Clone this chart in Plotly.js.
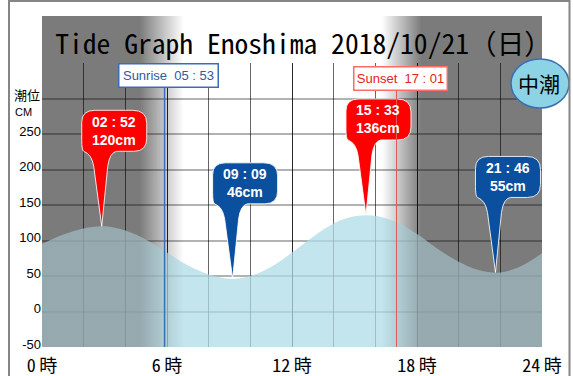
<!DOCTYPE html>
<html><head><meta charset="utf-8">
<script src="https://cdn.plot.ly/plotly-3.0.1.min.js"></script>
<style>html,body{margin:0;padding:0;background:#fff}#chart{width:573px;height:376px}</style>
</head><body><div id="chart"></div>
<script>
// ---------------- data ----------------
const chartTitle = "Tide Graph Enoshima 2018/10/21（日）";
const tideName = "中潮";
const hours = [0,1,2,3,4,5,6,7,8,9,10,11,12,13,14,15,16,17,18,19,20,21,22,23,24];
const tideLevels = [95,108,117,120,114,101,83,65,52,46,50,63,83,105,124,134,135,126,109,88,70,58,55,64,82];
const extremeTimes = ["02:52","09:09","15:33","21:46"];
const extremeLevels = [120,46,136,55];
const extremeKinds = ["high","low","high","low"];
const sunLabels = ["Sunrise","Sunset"];
const sunTimes = ["05:53","17:01"];
const xTickHours = [0,6,12,18,24];
const xTickLabels = ["0\u2009時","6\u2009時","12\u2009時","18\u2009時","24\u2009時"];
const yTickValues = [-50,0,50,100,150,200,250];
const yTickLabels = ["-50","0","50","100","150","200","250"];
const yExtraGrid = [300];
const yAxisLabelTop = "潮位";
const yAxisLabelUnit = "CM";

// ---------------- layout geometry / styles ----------------
const W = 573, H = 376, ML = 42, MR = 31, MT = 63, MB = 29;
const PW = W - ML - MR, PH = H - MT - MB;
const px = p => (p - ML) / PW;          // pixel x -> paper
const py = p => (H - MB - p) / PH;      // pixel y -> paper
const Y_MIN = -50, Y_MAX = 350;

const toHour = s => { const [h, m] = s.split(":").map(Number); return h + m / 60; };
const spaced = s => s.replace(":", " : ");
const sunrise = toHour(sunTimes[0]), sunset = toHour(sunTimes[1]);

const NIGHT = "#7b7b7b", DAY = "#ffffff";
const gradStops = (night, day) => [
  [0, night], [sunrise - 1.2, night], [sunrise + 0.9, day],
  [sunset - 0.7, day], [sunset + 1.2, night], [24, night]
];

// background gradient image (below the grid)
const cv = document.createElement("canvas");
cv.width = 480; cv.height = 2;
const ctx = cv.getContext("2d");
const lg = ctx.createLinearGradient(0, 0, cv.width, 0);
gradStops(NIGHT, DAY).forEach(([h, c]) => lg.addColorStop(h / 24, c));
ctx.fillStyle = lg; ctx.fillRect(0, 0, cv.width, cv.height);
const bgUrl = cv.toDataURL();

const waterScale = gradStops("rgba(158,185,192,0.75)", "rgba(175,220,231,0.75)")
  .map(([h, c]) => [h / 24, c]);

// ---------------- traces ----------------
const traces = [
  { x: hours, y: hours.map(() => Y_MIN), mode: "lines", line: { width: 0 },
    hoverinfo: "skip", showlegend: false },
  { x: hours, y: tideLevels, mode: "lines", line: { width: 0, shape: "spline" },
    fill: "tonexty",
    fillgradient: { type: "horizontal", start: 0, stop: 24, colorscale: waterScale },
    hoverinfo: "skip", showlegend: false }
];

// ---------------- balloons ----------------
const balloonPath = "M 0,0 L -8,60 Q -10,72 -18,75 Q -20,76 -20,86 L -20,104 Q -20,116 -7,116 " +
  "L 31,116 Q 45,116 45,103 L 45,88 Q 45,75 32,75 L 15,75 Q 8,74 6,60 Z";
const shapes = [];
const annotations = [];
extremeTimes.forEach((t, i) => {
  const col = extremeKinds[i] === "high" ? "#ff0000" : "#0b4f9f";
  shapes.push({ type: "path", xref: "x", yref: "y", xsizemode: "pixel", ysizemode: "pixel",
    xanchor: toHour(t), yanchor: extremeLevels[i], path: balloonPath,
    fillcolor: col, line: { color: "rgba(255,255,255,0.85)", width: 1 }, layer: "above" });
  annotations.push({ x: toHour(t), y: extremeLevels[i], xref: "x", yref: "y",
    xshift: 12.5, yshift: 95.5, showarrow: false,
    text: "<b>" + spaced(t) + "<br>" + extremeLevels[i] + "cm</b>",
    font: { family: "Liberation Sans, Arial, sans-serif", size: 14, color: "#ffffff" } });
});

// sunrise / sunset lines and boxes
const sunStyle = [
  { line: "#3b6cb8", text: "#2f5a9c", border: "#3b6cb8", w: 96, xs: 4, yc: 75, lw: 1.5 },
  { line: "#e05a5a", text: "#e42020", border: "#ff6a6a", w: 90, xs: 3.5, yc: 78, lw: 1 }
];
sunTimes.forEach((t, i) => {
  const s = sunStyle[i];
  shapes.push({ type: "line", xref: "x", yref: "paper", x0: toHour(t), x1: toHour(t),
    y0: 0, y1: py(s.yc + 12), line: { color: s.line, width: s.lw }, layer: "above" });
  annotations.push({ x: toHour(t), xref: "x", xshift: s.xs, y: py(s.yc), yref: "paper",
    xanchor: "center", yanchor: "middle", showarrow: false, text: sunLabels[i] + "  " + spaced(t),
    width: s.w, height: 20, bgcolor: "#ffffff", bordercolor: s.border, borderwidth: 1.5, borderpad: 1,
    font: { family: "Liberation Sans, Arial, sans-serif", size: 13, color: s.text } });
});

// tide-name badge
shapes.push({ type: "circle", xref: "paper", yref: "paper", x0: px(511), x1: px(569), y0: py(108), y1: py(59),
  fillcolor: "#8cd3e6", line: { color: "#3b6fb2", width: 1.5 }, layer: "above" });
annotations.push({ x: px(539), y: py(83.5), xref: "paper", yref: "paper", xanchor: "center", yanchor: "middle",
  showarrow: false, text: tideName,
  font: { family: "Noto Sans CJK JP, sans-serif", size: 21, color: "#000" } });

// y axis caption (two separate lines)
annotations.push({ x: px(13), y: py(95), xref: "paper", yref: "paper", xanchor: "left", yanchor: "middle",
  showarrow: false, text: yAxisLabelTop, borderpad: 0,
  font: { family: "Noto Sans CJK JP, sans-serif", size: 13, color: "#000" } });
annotations.push({ x: px(14), y: py(112), xref: "paper", yref: "paper", xanchor: "left", yanchor: "middle",
  showarrow: false, text: yAxisLabelUnit, borderpad: 0,
  font: { family: "Liberation Sans, Arial, sans-serif", size: 11, color: "#000" } });

// outer frame
shapes.push({ type: "rect", xref: "paper", yref: "paper", x0: px(9), x1: px(569.5), y0: py(378), y1: py(1),
  line: { color: "#858585", width: 2 }, fillcolor: "rgba(0,0,0,0)", layer: "above" });

const layout = {
  width: W, height: H,
  margin: { l: ML, r: MR, t: MT, b: MB, pad: 0 },
  paper_bgcolor: "#ffffff", plot_bgcolor: "rgba(0,0,0,0)",
  title: { text: chartTitle, xref: "paper", x: px(303.5), xanchor: "center",
    yref: "container", y: 1 - 44 / H, yanchor: "middle",
    font: { family: "Noto Sans Mono CJK JP, Liberation Mono, monospace", size: 27.6, color: "#000" } },
  xaxis: { range: [0, 24], tickvals: xTickHours, ticktext: xTickLabels, ticks: "", ticklabelstandoff: 6,
    showgrid: true, gridcolor: "rgba(0,0,0,0.6)", gridwidth: 1, zeroline: false, showline: false,
    minor: { dtick: 2, showgrid: true, gridcolor: "rgba(0,0,0,0.6)", gridwidth: 1 },
    tickfont: { family: "Noto Sans Mono CJK JP, Liberation Mono, monospace", size: 18, color: "#000" },
    fixedrange: true },
  yaxis: { range: [Y_MIN, Y_MAX], tickvals: yTickValues, ticktext: yTickLabels, ticks: "", ticklabelshift: -3,
    showgrid: true, gridcolor: "rgba(0,0,0,0.3)", gridwidth: 2, zeroline: false, showline: false,
    minor: { tickvals: yExtraGrid, showgrid: true, gridcolor: "rgba(0,0,0,0.3)", gridwidth: 2 },
    tickfont: { family: "Liberation Sans, Arial, sans-serif", size: 13, color: "#000" },
    fixedrange: true },
  images: [{ source: bgUrl, xref: "paper", yref: "paper", x: 0, y: py(16), sizex: 1, sizey: py(16),
    xanchor: "left", yanchor: "top", sizing: "stretch", layer: "below" }],
  shapes: shapes, annotations: annotations, showlegend: false
};

Plotly.newPlot("chart", traces, layout, { displayModeBar: false, staticPlot: true });
</script></body></html>
